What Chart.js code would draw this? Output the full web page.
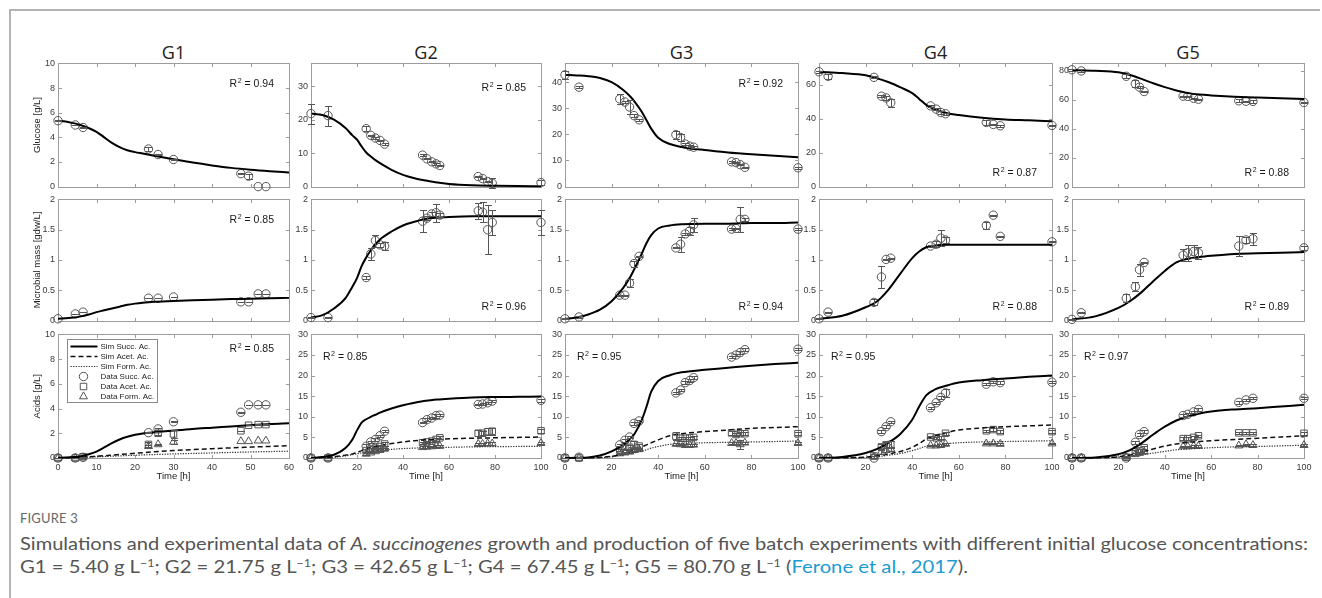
<!DOCTYPE html>
<html><head><meta charset="utf-8">
<script src="https://cdn.jsdelivr.net/npm/chart.js@4.4.1/dist/chart.umd.min.js"></script>
<style>
html,body{margin:0;padding:0;background:#fff;}
body{width:1322px;height:598px;position:relative;overflow:hidden;font-family:"Liberation Sans",Arial,sans-serif;}
#frame{position:absolute;left:9px;top:9px;width:1309px;height:600px;border-left:2px solid #b4b4b4;border-top:2px solid #b4b4b4;}
canvas.cv{position:absolute;}
.gt{position:absolute;top:41px;font-family:"Open Sans",sans-serif;font-size:18px;line-height:22px;color:#222;transform:translateX(-50%);}
.capline{position:absolute;left:20px;white-space:nowrap;transform-origin:0 50%;display:inline-block;font-family:Lato,"Open Sans",sans-serif;color:#555;}
#figlabel{top:511px;font-size:12.5px;line-height:16px;color:#666;letter-spacing:0.2px;}
#cap1{top:532px;font-size:18px;line-height:22px;}
#cap2{top:555px;font-size:18px;line-height:22px;}
.capline sup{font-size:11px;line-height:0;vertical-align:6px;}
.ref{color:#1d9bd1;}
</style></head>
<body>
<div id="frame"></div>
<div id="figlabel" class="capline">FIGURE 3</div>
<div id="cap1" class="capline">Simulations and experimental data of <i>A. succinogenes</i> growth and production of five batch experiments with different initial glucose concentrations:</div>
<div id="cap2" class="capline">G1 = 5.40 g L<sup>−1</sup>; G2 = 21.75 g L<sup>−1</sup>; G3 = 42.65 g L<sup>−1</sup>; G4 = 67.45 g L<sup>−1</sup>; G5 = 80.70 g L<sup>−1</sup> (<span class="ref">Ferone et al., 2017</span>).</div>
<script>
// ---------------- DATA ----------------
const groupNames = ['G1','G2','G3','G4','G5'];
const rowTitles = ['Glucose [g/L]','Microbial mass [gdw/L]','Acids [g/L]'];
const seriesLabels = ['Sim Succ. Ac.','Sim Acet. Ac.','Sim Form. Ac.','Data Succ. Ac.','Data Acet. Ac.','Data Form. Ac.'];
const xAxisTitle = 'Time [h]';

// axis ranges / tick steps
const xMax = [60,100,100,100,100];
const xStep = [10,20,20,20,20];
const glcMax = [10,36.8,47.2,72.5,85];
const glcStep = [2,10,10,20,20];
const bioMax = [2,2,2,2,2];
const bioStep = [0.5,0.5,0.5,0.5,0.5];
const acidMax = [10,30,30,30,30];
const acidStep = [2,5,5,5,5];

// R^2 annotations
const r2Glc = ['0.94','0.85','0.92','0.87','0.88'];
const r2Bio = ['0.85','0.96','0.94','0.88','0.89'];
const r2Acid = ['0.85','0.85','0.95','0.95','0.97'];

// ---- G1 ----
const g1T = [0,4.5,6.5,23.5,26,30,47.5,49.5,52,54];
const g1Glc = [5.35,5.0,4.8,3.05,2.6,2.2,1.05,0.85,0,0];
const g1GlcErr = [0.03,0.03,0.03,0.2,0.05,0.05,0.03,0.2,0,0];
const g1Bio = [0.03,0.11,0.14,0.37,0.37,0.39,0.31,0.31,0.44,0.44];
const g1BioErr = [0,0.005,0.005,0.005,0.005,0.005,0.005,0.005,0.005,0.005];
const g1Succ = [0,0,0.05,2.05,2.35,2.93,3.7,4.3,4.3,4.3];
const g1SuccErr = [0.02,0.02,0.02,0.05,0.05,0.05,0.05,0.02,0.02,0.02];
const g1Acet = [0,0,0.1,1.1,2.0,1.95,2.2,2.65,2.7,2.7];
const g1AcetErr = [0.02,0.02,0.02,0.2,0.1,0.35,0.02,0.02,0.05,0.05];
const g1Form = [0,0,0.05,0.95,1.1,1.3,1.35,1.35,1.4,1.4];
const g1FormErr = [0,0,0,0.1,0.05,0.15,0,0,0,0];
const g1SimT = [0,2,4,6,8,10,12,14,16,18,20,22,25,30,35,40,45,50,55,60];
const g1GlcSim = [5.35,5.28,5.15,4.98,4.75,4.45,4.0,3.55,3.2,2.95,2.8,2.68,2.5,2.22,1.95,1.72,1.52,1.37,1.25,1.15];
const g1BioSim = [0.03,0.04,0.05,0.07,0.1,0.14,0.17,0.2,0.23,0.26,0.28,0.295,0.31,0.325,0.335,0.345,0.355,0.36,0.37,0.375];
const g1SuccSim = [0.02,0.04,0.08,0.15,0.3,0.52,0.85,1.2,1.5,1.72,1.88,1.98,2.08,2.22,2.35,2.45,2.55,2.65,2.75,2.82];
const g1AcetSim = [0,0.02,0.04,0.07,0.1,0.14,0.18,0.23,0.28,0.33,0.38,0.43,0.5,0.6,0.68,0.75,0.82,0.88,0.94,1.0];
const g1FormSim = [0,0.01,0.03,0.05,0.07,0.1,0.12,0.15,0.17,0.2,0.22,0.25,0.28,0.33,0.37,0.41,0.45,0.49,0.52,0.55];

// ---- G2 ----
const g2T = [0,7.4,24,26,28,30,32,48.5,50.4,52.5,54.4,56,72.7,74.6,76.8,78.8,100];
const g2Glc = [21.8,21.2,17.3,15.3,14.5,13.8,12.7,9.4,8.3,7.4,6.8,6.3,3.0,2.4,1.5,1.0,1.2];
const g2GlcErr = [3,3,0.7,0.2,0.2,0.2,0.2,0.3,0.2,0.2,0.3,0.2,0.2,0.2,0.2,1.5,0.8];
const g2Bio = [0.05,0.05,0.71,1.1,1.32,1.25,1.23,1.64,1.69,1.76,1.78,1.74,1.81,1.79,1.5,1.62,1.62];
const g2BioErr = [0.01,0.01,0.03,0.1,0.1,0.03,0.07,0.18,0.03,0.03,0.15,0.03,0.13,0.16,0.4,0.2,0.2];
const g2Succ = [0,0,2.85,3.9,4.5,5.4,6.5,8.6,9.3,9.7,10.3,10.4,13.0,13.1,13.4,13.8,14.0];
const g2SuccErr = [0.1,0.1,0.6,0.3,0.3,0.3,0.3,0.2,0.3,0.3,0.5,0.3,0.2,0.3,0.3,0.3,0.3];
const g2Acet = [0,0,1.8,2.1,2.4,2.8,3.4,3.7,3.9,4.1,4.5,4.9,6.0,6.0,6.4,6.5,6.6];
const g2AcetErr = [0.1,0.1,0.4,0.3,0.3,0.4,0.6,0.3,0.3,0.3,0.3,0.4,0.7,0.5,0.8,0.8,0.5];
const g2Form = [0,0,1.0,1.3,1.6,1.9,2.2,2.6,2.7,2.8,2.9,2.9,3.4,3.4,3.5,3.5,3.6];
const g2FormErr = [0.1,0.1,0.2,0.2,0.2,0.2,0.2,0.2,0.2,0.2,0.2,0.2,0.3,0.3,0.3,0.3,0.3];
const g2SimT = [0,5,10,15,18,20,22,24,26,28,30,35,40,45,50,55,60,70,80,90,100];
const g2GlcSim = [21.8,21.4,20.0,17.5,15.3,14.0,12.0,10.2,9.0,7.9,7.0,5.0,3.5,2.5,1.8,1.2,0.8,0.4,0.25,0.15,0.1];
const g2BioSim = [0.05,0.09,0.2,0.37,0.56,0.7,0.9,1.04,1.16,1.26,1.34,1.47,1.57,1.63,1.68,1.7,1.71,1.72,1.72,1.72,1.72];
const g2SuccSim = [0,0.25,0.8,2.4,4.5,6.7,8.6,9.4,10.0,10.5,11.0,12.0,12.8,13.4,13.9,14.2,14.4,14.7,14.8,14.85,14.9];
const g2AcetSim = [0,0.1,0.3,0.7,1.0,1.3,1.8,2.2,2.5,2.8,3.0,3.5,3.9,4.2,4.4,4.55,4.65,4.8,4.9,5.0,5.1];
const g2FormSim = [0,0.05,0.2,0.5,0.8,1.0,1.3,1.5,1.65,1.8,1.9,2.1,2.3,2.4,2.5,2.55,2.6,2.7,2.75,2.8,2.85];

// ---- G3 ----
const g3T = [0,6,23.5,25.7,27.7,29.6,31.8,47.6,49.6,51.6,53.5,55.2,71.5,73.4,75.2,77.2,100];
const g3Glc = [42.8,38.1,33.6,32.4,30.5,27.2,25.6,19.9,18.8,16.3,15.5,15.1,9.5,9.2,8.4,7.4,7.2];
const g3GlcErr = [1.5,0.3,2,0.3,2.5,0.5,0.3,1.5,1.5,0.3,0.3,0.3,0.3,0.3,0.3,0.3,0.5];
const g3Bio = [0.03,0.06,0.42,0.42,0.62,0.94,1.06,1.2,1.26,1.43,1.48,1.58,1.51,1.52,1.67,1.67,1.51];
const g3BioErr = [0.01,0.01,0.01,0.01,0.06,0.05,0.01,0.01,0.12,0.01,0.07,0.12,0.01,0.01,0.2,0.03,0.02];
const g3Succ = [0,0.2,3.2,4.3,5.1,8.4,9.0,15.8,16.5,18.3,18.8,19.5,24.5,25.0,25.6,26.3,26.4];
const g3SuccErr = [0.1,0.1,0.3,0.3,0.3,0.3,0.3,0.3,0.3,0.3,0.3,0.3,0.3,0.3,0.3,0.3,0.3];
const g3Acet = [0,0,2.0,2.6,2.6,3.3,2.9,5.3,4.8,4.8,4.9,5.0,6.1,5.7,5.9,5.9,5.9];
const g3AcetErr = [0.1,0.1,0.3,0.5,0.5,0.8,0.4,1.0,0.3,0.3,0.3,0.3,0.4,0.4,0.4,0.4,0.4];
const g3Form = [0,0,1.1,1.3,1.5,1.9,2.1,3.4,3.3,3.1,3.1,3.2,3.6,3.6,3.3,3.7,3.6];
const g3FormErr = [0.1,0.1,0.2,0.2,0.2,0.3,0.2,0.3,0.2,0.2,0.2,0.2,0.3,0.3,1.0,0.3,0.3];
const g3SimT = [0,5,10,15,20,25,28,30,33,35,37,40,45,50,60,70,80,90,100];
const g3GlcSim = [42.8,42.6,42.3,41.6,40,37,34.5,32.4,28.6,25.4,22.2,18.7,16.3,15.2,14.0,13.1,12.4,11.8,11.2];
const g3BioSim = [0.03,0.05,0.1,0.18,0.32,0.54,0.72,0.87,1.11,1.28,1.41,1.52,1.57,1.59,1.6,1.6,1.61,1.61,1.62];
const g3SuccSim = [0,0.05,0.15,0.6,1.6,3.2,4.7,6.0,9.3,12.5,16.1,18.7,20.1,20.8,21.4,21.9,22.4,22.8,23.1];
const g3AcetSim = [0,0,0.05,0.15,0.4,1.0,1.5,2.0,2.7,3.2,3.7,4.4,5.4,5.9,6.4,6.8,7.2,7.4,7.6];
const g3FormSim = [0,0,0.03,0.1,0.3,0.8,1.1,1.3,1.7,2.0,2.4,2.8,3.3,3.5,3.7,3.8,3.9,4.0,4.1];

// ---- G4 ----
const g4T = [0,3.9,23.6,26.8,28.8,30.8,47.9,50.3,52.3,54.3,71.8,74.8,77.8,100];
const g4Glc = [67.6,64.9,64.3,53.2,52.2,49.3,47.5,45.6,43.6,42.9,37.8,36.6,35.8,36.0];
const g4GlcErr = [0.5,1.5,0.5,0.5,1,2.5,0.5,0.5,1,0.5,1.5,0.5,0.5,0.5];
const g4Bio = [0.03,0.14,0.3,0.72,1.01,1.03,1.23,1.26,1.36,1.33,1.57,1.74,1.39,1.3];
const g4BioErr = [0.01,0.01,0.05,0.18,0.01,0.01,0.01,0.05,0.13,0.05,0.06,0.01,0.01,0.01];
const g4Succ = [0,0,0,6.4,7.6,8.8,12.2,13.4,14.7,15.8,17.9,18.5,18.3,18.4];
const g4SuccErr = [0.1,0.1,0.1,0.3,0.3,0.3,0.3,0.3,0.3,1.0,0.3,0.3,0.3,0.3];
const g4Acet = [0,0,0.5,2.7,3.2,3.3,5.1,4.9,5.0,6.0,6.6,6.9,6.4,6.4];
const g4AcetErr = [0.1,0.1,0.5,0.6,0.8,0.8,0.3,0.3,0.3,0.3,0.3,0.3,0.3,0.3];
const g4Form = [0,0,0.3,1.5,1.9,2.2,3.0,3.0,3.1,3.4,3.5,3.5,3.4,3.5];
const g4FormErr = [0.1,0.1,0.2,0.5,0.5,0.5,0.2,0.2,0.2,0.2,0.2,0.2,0.2,0.2];
const g4SimT = [0,10,20,25,30,35,40,43,46,50,55,60,70,80,90,100];
const g4GlcSim = [67.6,66.8,65.5,63.7,61.4,58.4,55,51.6,48.1,45.4,43.2,42.1,40.5,39.5,39,38.4];
const g4BioSim = [0.03,0.08,0.22,0.32,0.52,0.78,1.03,1.14,1.21,1.24,1.25,1.25,1.25,1.25,1.25,1.25];
const g4SuccSim = [0,0.25,1.2,2.2,3.8,5.9,9.3,12.5,15.2,16.7,17.6,18.3,18.9,19.3,19.7,20.0];
const g4AcetSim = [0,0.05,0.2,0.5,1.0,1.6,2.6,3.5,4.6,5.4,6.2,6.8,7.3,7.6,7.8,8.0];
const g4FormSim = [0,0.02,0.1,0.3,0.7,1.1,1.8,2.3,2.9,3.2,3.5,3.7,3.9,4.0,4.1,4.2];

// ---- G5 ----
const g5T = [0,4,23.4,27.3,29.1,31.1,47.9,49.9,52.4,54.5,71.9,75,78,100];
const g5Glc = [80.6,79.8,76.1,70.9,68.6,65.6,62.4,62.2,61.0,60.3,59.2,58.9,58.8,58.0];
const g5GlcErr = [0.5,1,1.5,2.5,0.5,0.5,0.3,0.3,0.3,0.3,1,0.5,1,0.5];
const g5Bio = [0.02,0.13,0.37,0.56,0.84,0.96,1.08,1.12,1.14,1.12,1.23,1.33,1.35,1.2];
const g5BioErr = [0.01,0.01,0.07,0.07,0.1,0.01,0.1,0.13,0.1,0.1,0.17,0.05,0.1,0.03];
const g5Succ = [0,0,0,3.8,5.7,6.4,10.3,10.6,11.2,11.8,13.5,14.1,14.5,14.5];
const g5SuccErr = [0.1,0.1,0.1,0.3,0.3,0.3,0.3,0.3,0.3,0.3,0.3,0.3,0.3,0.3];
const g5Acet = [0,0,0.2,1.5,1.8,2.5,4.7,4.7,5.0,5.4,6.1,6.1,6.1,6.0];
const g5AcetErr = [0.1,0.1,0.3,0.4,0.4,0.4,0.3,0.3,0.3,0.3,0.3,0.3,0.3,0.3];
const g5Form = [0,0,0.1,0.9,1.2,1.5,2.8,2.8,2.9,2.9,3.0,3.3,3.1,3.1];
const g5FormErr = [0.1,0.1,0.1,0.2,0.2,0.2,0.2,0.2,0.2,0.2,0.2,0.2,0.2,0.2];
const g5SimT = [0,10,20,25,30,35,40,45,50,55,60,70,80,90,100];
const g5GlcSim = [80.5,80,78.9,77,74.3,71.3,68.6,66.3,64.5,63.5,62.9,62,61.4,60.9,60.5];
const g5BioSim = [0.02,0.07,0.21,0.32,0.47,0.65,0.82,0.96,1.02,1.05,1.07,1.1,1.11,1.12,1.13];
const g5SuccSim = [0,0.1,0.9,1.9,3.6,5.7,7.6,9.1,10.1,10.8,11.3,11.8,12.1,12.5,12.9];
const g5AcetSim = [0,0.05,0.3,0.7,1.4,2.2,2.9,3.4,3.8,4.0,4.2,4.5,4.8,5.1,5.4];
const g5FormSim = [0,0.02,0.2,0.4,0.8,1.2,1.6,2.0,2.2,2.35,2.5,2.7,2.8,2.95,3.1];

// ---------------- BUILD ----------------
const experiments = [
 {t:g1T,glc:g1Glc,glcErr:g1GlcErr,bio:g1Bio,bioErr:g1BioErr,succ:g1Succ,succErr:g1SuccErr,acet:g1Acet,acetErr:g1AcetErr,form:g1Form,formErr:g1FormErr,simT:g1SimT,glcSim:g1GlcSim,bioSim:g1BioSim,succSim:g1SuccSim,acetSim:g1AcetSim,formSim:g1FormSim},
 {t:g2T,glc:g2Glc,glcErr:g2GlcErr,bio:g2Bio,bioErr:g2BioErr,succ:g2Succ,succErr:g2SuccErr,acet:g2Acet,acetErr:g2AcetErr,form:g2Form,formErr:g2FormErr,simT:g2SimT,glcSim:g2GlcSim,bioSim:g2BioSim,succSim:g2SuccSim,acetSim:g2AcetSim,formSim:g2FormSim},
 {t:g3T,glc:g3Glc,glcErr:g3GlcErr,bio:g3Bio,bioErr:g3BioErr,succ:g3Succ,succErr:g3SuccErr,acet:g3Acet,acetErr:g3AcetErr,form:g3Form,formErr:g3FormErr,simT:g3SimT,glcSim:g3GlcSim,bioSim:g3BioSim,succSim:g3SuccSim,acetSim:g3AcetSim,formSim:g3FormSim},
 {t:g4T,glc:g4Glc,glcErr:g4GlcErr,bio:g4Bio,bioErr:g4BioErr,succ:g4Succ,succErr:g4SuccErr,acet:g4Acet,acetErr:g4AcetErr,form:g4Form,formErr:g4FormErr,simT:g4SimT,glcSim:g4GlcSim,bioSim:g4BioSim,succSim:g4SuccSim,acetSim:g4AcetSim,formSim:g4FormSim},
 {t:g5T,glc:g5Glc,glcErr:g5GlcErr,bio:g5Bio,bioErr:g5BioErr,succ:g5Succ,succErr:g5SuccErr,acet:g5Acet,acetErr:g5AcetErr,form:g5Form,formErr:g5FormErr,simT:g5SimT,glcSim:g5GlcSim,bioSim:g5BioSim,succSim:g5SuccSim,acetSim:g5AcetSim,formSim:g5FormSim}
];

// layout (pixels)
const COLS = [[58,231],[311,230],[565,233],[819,233],[1072,232]];
const ROWS = [[63,124],[199,122],[334,124]];
const FONT = '"Liberation Sans", Arial, sans-serif';
const MARK = '#555';

function pts(t,v){return t.map((x,i)=>({x:x,y:v[i]}));}

const boxPlugin = {
  id:'mbox',
  beforeDatasetsDraw(chart){
    const ctx=chart.ctx,a=chart.chartArea,xs=chart.scales.x,ys=chart.scales.y;
    ctx.save();
    ctx.strokeStyle='#9c9c9c';ctx.lineWidth=1;
    const L=Math.round(a.left)+0.5,T=Math.round(a.top)+0.5,R=Math.round(a.right)+0.5,B=Math.round(a.bottom)+0.5;
    ctx.strokeRect(L,T,R-L,B-T);
    const tl=3.5;
    ctx.beginPath();
    xs.ticks.forEach(t=>{const p=Math.round(xs.getPixelForValue(t.value))+0.5;ctx.moveTo(p,B);ctx.lineTo(p,B-tl);ctx.moveTo(p,T);ctx.lineTo(p,T+tl);});
    ys.ticks.forEach(t=>{const p=Math.round(ys.getPixelForValue(t.value))+0.5;ctx.moveTo(L,p);ctx.lineTo(L+tl,p);ctx.moveTo(R,p);ctx.lineTo(R-tl,p);});
    ctx.stroke();
    ctx.restore();
  }
};

const errPlugin = {
  id:'errbars',
  afterDatasetsDraw(chart){
    const ctx=chart.ctx,xs=chart.scales.x,ys=chart.scales.y;
    ctx.save();ctx.strokeStyle=MARK;ctx.lineWidth=1;
    chart.data.datasets.forEach(ds=>{
      if(!ds.errors) return;
      ds.data.forEach((p,j)=>{
        const e=ds.errors[j]; if(!e) return;
        const px=Math.round(xs.getPixelForValue(p.x))+0.5;
        const y1=Math.round(ys.getPixelForValue(p.y-e))+0.5,y2=Math.round(ys.getPixelForValue(p.y+e))+0.5;
        ctx.beginPath();ctx.moveTo(px,y1);ctx.lineTo(px,y2);
        ctx.moveTo(px-3.5,y1);ctx.lineTo(px+3.5,y1);ctx.moveTo(px-3.5,y2);ctx.lineTo(px+3.5,y2);ctx.stroke();
      });
    });
    ctx.restore();
  }
};

const r2Plugin = {
  id:'r2',
  afterDatasetsDraw(chart,args,o){
    if(!o||!o.text) return;
    const ctx=chart.ctx,a=chart.chartArea;
    ctx.save();
    const f1='10.5px '+FONT,f2='7px '+FONT;
    ctx.font=f1;const wR=ctx.measureText('R').width,rest=' = '+o.text,wRest=ctx.measureText(rest).width;
    ctx.font=f2;const w2=ctx.measureText('2').width;
    const W=wR+w2+0.5+wRest;
    let x,yc;
    if(o.pos==='tr'){x=a.right-o.dx-W;yc=a.top+o.dy;}
    else if(o.pos==='br'){x=a.right-o.dx-W;yc=a.bottom-o.dy;}
    else {x=a.left+o.dx;yc=a.top+o.dy;}
    const base=yc+3.8;
    ctx.fillStyle='#1a1a1a';ctx.textAlign='left';ctx.textBaseline='alphabetic';
    ctx.font=f1;ctx.fillText('R',x,base);
    ctx.font=f2;ctx.fillText('2',x+wR+0.5,base-4.5);
    ctx.font=f1;ctx.fillText(rest,x+wR+w2+0.5,base);
    ctx.restore();
  }
};

const legendPlugin = {
  id:'lbox',
  afterDatasetsDraw(chart,args,o){
    if(!o||!o.show) return;
    const ctx=chart.ctx,a=chart.chartArea;
    const bx=Math.round(a.left)+9.5,by=Math.round(a.top)+5.5,bw=90,bh=63;
    ctx.save();
    ctx.fillStyle='#fff';ctx.fillRect(bx,by,bw,bh);
    ctx.strokeStyle='#8a8a8a';ctx.lineWidth=1;ctx.strokeRect(bx,by,bw,bh);
    ctx.font='8px '+FONT;ctx.textBaseline='middle';ctx.textAlign='left';
    chart.data.datasets.forEach((ds,i)=>{
      const y=by+7+i*10;
      if(ds.showLine){
        ctx.save();ctx.strokeStyle=ds.borderColor;ctx.lineWidth=ds.borderWidth;ctx.setLineDash(ds.borderDash||[]);
        ctx.beginPath();ctx.moveTo(bx+3,y);ctx.lineTo(bx+30,y);ctx.stroke();ctx.restore();
      } else {
        ctx.save();ctx.strokeStyle=MARK;ctx.fillStyle='rgba(0,0,0,0)';ctx.lineWidth=1;
        if(Chart.helpers&&Chart.helpers.drawPoint){
          Chart.helpers.drawPoint(ctx,{pointStyle:ds.pointStyle,radius:ds.pointRadius,borderWidth:1,rotation:0},bx+16,y);
        }
        ctx.restore();
      }
      ctx.fillStyle='#222';ctx.fillText(ds.label,bx+33,y+0.5);
    });
    ctx.restore();
  }
};

function simDs(label,t,v,style){
  const s={label:label,data:pts(t,v),showLine:true,pointRadius:0,fill:false,clip:false,cubicInterpolationMode:'monotone',borderColor:'#000',borderWidth:2};
  if(style==='dash'){s.borderColor='#111';s.borderWidth=1.5;s.borderDash=[5,3];}
  if(style==='dot'){s.borderColor='#333';s.borderWidth=1.2;s.borderDash=[1.3,1.3];}
  return s;
}
function dataDs(label,t,v,err,shape){
  return {label:label,data:pts(t,v),errors:err,showLine:false,pointStyle:shape,pointRadius:shape==='circle'?4.2:4.6,
    backgroundColor:'rgba(0,0,0,0)',borderColor:MARK,borderWidth:1,pointBorderWidth:1,clip:false};
}

function makeChart(c,r){
  const e=experiments[c];
  const [px,pw]=COLS[c],[py,ph]=ROWS[r];
  const Lw=30,Tp=8,Rp=12,Bp=(r===2?30:8);
  const cv=document.createElement('canvas');
  cv.className='cv';
  cv.width=pw+Lw+Rp;cv.height=ph+Tp+Bp;
  cv.style.left=(px-Lw)+'px';cv.style.top=(py-Tp)+'px';
  cv.style.width=cv.width+'px';cv.style.height=cv.height+'px';
  document.body.appendChild(cv);
  let datasets,yMax,yStep,r2,pos,dx,dy;
  if(r===0){
    datasets=[simDs('Sim Glucose',e.simT,e.glcSim,'solid'),dataDs('Data Glucose',e.t,e.glc,e.glcErr,'circle')];
    yMax=glcMax[c];yStep=glcStep[c];r2=r2Glc[c];pos=(c>=3?'br':'tr');
  } else if(r===1){
    datasets=[simDs('Sim Biomass',e.simT,e.bioSim,'solid'),dataDs('Data Biomass',e.t,e.bio,e.bioErr,'circle')];
    yMax=bioMax[c];yStep=bioStep[c];r2=r2Bio[c];pos=(c>=1?'br':'tr');
  } else {
    datasets=[
      simDs(seriesLabels[0],e.simT,e.succSim,'solid'),
      simDs(seriesLabels[1],e.simT,e.acetSim,'dash'),
      simDs(seriesLabels[2],e.simT,e.formSim,'dot'),
      dataDs(seriesLabels[3],e.t,e.succ,e.succErr,'circle'),
      dataDs(seriesLabels[4],e.t,e.acet,e.acetErr,'rect'),
      dataDs(seriesLabels[5],e.t,e.form,e.formErr,'triangle')];
    yMax=acidMax[c];yStep=acidStep[c];r2=r2Acid[c];pos=(c>=1?'tl':'tr');
  }
  if(pos==='tr'){dx=15;dy=(r===2?14:(c===1?24:20));}
  else if(pos==='br'){dx=15;dy=14;}
  else {dx=12;dy=22;}
  const bottom=(r===2);
  const tickFont={family:FONT,size:9};
  new Chart(cv.getContext('2d'),{
    type:'scatter',
    data:{datasets:datasets},
    options:{
      responsive:false,animation:false,devicePixelRatio:1,
      layout:{padding:{left:0,top:Tp,right:Rp,bottom:bottom?0:Bp}},
      plugins:{legend:{display:false},tooltip:{enabled:false},
        r2:{text:r2,pos:pos,dx:dx,dy:dy},
        lbox:{show:(c===0&&r===2)}},
      scales:{
        x:{type:'linear',min:0,max:xMax[c],
          grid:{display:false,drawTicks:false},border:{display:false},
          ticks:{display:bottom,stepSize:xStep[c],includeBounds:false,padding:4,font:tickFont,color:'#3a3a3a',maxRotation:0,autoSkip:false,callback:v=>String(v)},
          title:{display:bottom,text:xAxisTitle,font:{family:FONT,size:9.5},color:'#222',padding:{top:0,bottom:6}},
          afterFit(s){s.height=bottom?30:0;}},
        y:{type:'linear',min:0,max:yMax,
          grid:{display:false,drawTicks:false},border:{display:false},
          ticks:{stepSize:yStep,includeBounds:false,padding:3,font:tickFont,color:'#3a3a3a',autoSkip:false,callback:v=>String(+Number(v).toFixed(2))},
          title:{display:c===0,text:rowTitles[r],font:{family:FONT,size:9.5},color:'#222',padding:{top:4,bottom:0}},
          afterFit(s){s.width=Lw;}}
      }
    },
    plugins:[boxPlugin,errPlugin,r2Plugin,legendPlugin]
  });
}

for(let c=0;c<5;c++){
  const d=document.createElement('div');d.className='gt';d.textContent=groupNames[c];
  d.style.left=(COLS[c][0]+COLS[c][1]/2)+'px';document.body.appendChild(d);
  for(let r=0;r<3;r++) makeChart(c,r);
}

function fit(id,w){const el=document.getElementById(id);const cw=el.getBoundingClientRect().width;if(cw>0)el.style.transform='scaleX('+(w/cw)+')';}
fit('figlabel',58);fit('cap1',1288);fit('cap2',948);
</script>
</body></html>
